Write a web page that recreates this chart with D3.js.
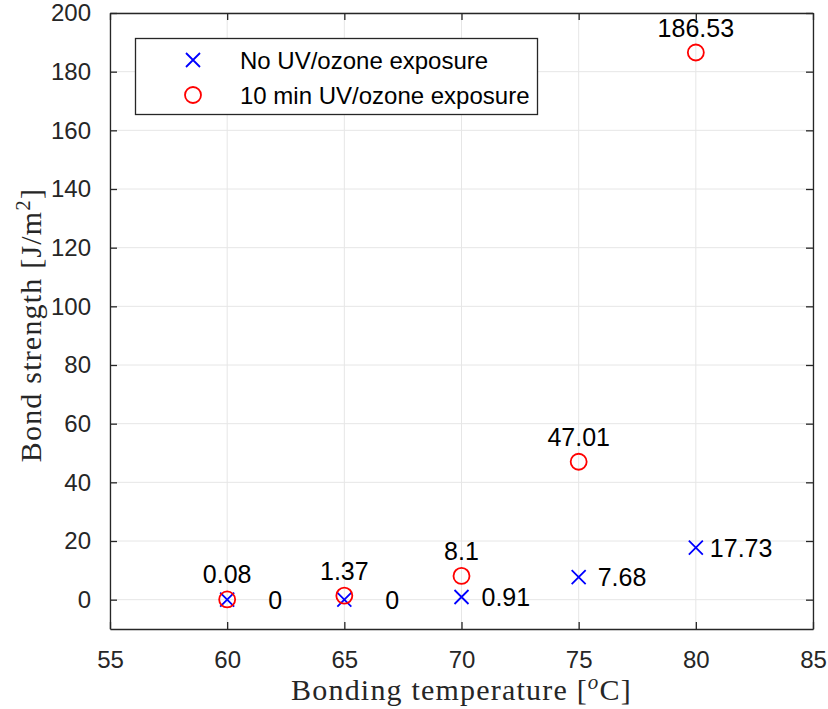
<!DOCTYPE html>
<html>
<head>
<meta charset="utf-8">
<script src="https://cdn.jsdelivr.net/npm/d3@7"></script>
<style>
  body { margin: 0; background: #fff; }
  svg text { font-family: "Liberation Sans", Arial, sans-serif; }
</style>
</head>
<body>
<script>
// data
var temps = [60, 65, 70, 75, 80];
var noUV = [0, 0, 0.91, 7.68, 17.73];
var withUV = [0.08, 1.37, 8.1, 47.01, 186.53];
var noUVLabels = ["0", "0", "0.91", "7.68", "17.73"];
var withUVLabels = ["0.08", "1.37", "8.1", "47.01", "186.53"];
var xTicks = [55, 60, 65, 70, 75, 80, 85];
var yTicks = [0, 20, 40, 60, 80, 100, 120, 140, 160, 180, 200];
var seriesNames = ["No UV/ozone exposure", "10 min UV/ozone exposure"];

// label placement (pixels to the right of the blue marks)
var noUVLabelDx = [41, 41, 20, 19, 14];

function bondChart() {

    this.init = function () {
        var width = 828, height = 709;
        var margin = {left: 110, right: 15, top: 13, bottom: 80};

        var svg = d3.select("body")
            .append("svg")
            .attr("width", width)
            .attr("height", height);

        var x = d3.scaleLinear().domain([55, 85]).range([margin.left, width - margin.right]);
        var y = d3.scaleLinear().domain([-10, 200]).range([height - margin.bottom, margin.top]);

        this.drawGrid(svg, x, y);
        this.drawAxes(svg, x, y);
        this.drawPoints(svg, x, y);
        this.drawLegend(svg);
    };


    this.drawGrid = function (svg, x, y) {
        var g = svg.append("g");
        xTicks.forEach(function (t) {
            g.append("line")
                .attr("x1", x(t)).attr("x2", x(t))
                .attr("y1", y.range()[0]).attr("y2", y.range()[1])
                .attr("stroke", "#e6e6e6");
        });
        yTicks.forEach(function (t) {
            g.append("line")
                .attr("x1", x.range()[0]).attr("x2", x.range()[1])
                .attr("y1", y(t)).attr("y2", y(t))
                .attr("stroke", "#e6e6e6");
        });
    };


    this.drawAxes = function (svg, x, y) {
        var x0 = x.range()[0], x1 = x.range()[1];
        var y0 = y.range()[0], y1 = y.range()[1];

        var bottom = svg.append("g").attr("transform", "translate(0," + y0 + ")")
            .call(d3.axisBottom(x).tickValues(xTicks).tickSizeInner(-7).tickSizeOuter(0).tickPadding(22));
        var top = svg.append("g").attr("transform", "translate(0," + y1 + ")")
            .call(d3.axisTop(x).tickValues(xTicks).tickSizeInner(-7).tickSizeOuter(0).tickFormat(""));
        var left = svg.append("g").attr("transform", "translate(" + x0 + ",0)")
            .call(d3.axisLeft(y).tickValues(yTicks).tickSizeInner(-7).tickSizeOuter(0).tickPadding(19));
        var right = svg.append("g").attr("transform", "translate(" + x1 + ",0)")
            .call(d3.axisRight(y).tickValues(yTicks).tickSizeInner(-7).tickSizeOuter(0).tickFormat(""));

        [bottom, top, left, right].forEach(function (a) {
            a.select(".domain").attr("stroke", "#262626").attr("stroke-width", 1.3);
            a.selectAll(".tick line").attr("stroke", "#262626").attr("stroke-width", 1.3);
            a.selectAll(".tick text").attr("fill", "#262626").style("font-size", "24px")
                .style("font-family", "'Liberation Sans', Arial, sans-serif");
        });

        var xl = svg.append("text")
            .attr("x", (x0 + x1) / 2)
            .attr("y", 700)
            .attr("text-anchor", "middle")
            .attr("fill", "#262626")
            .style("font-family", "'Liberation Serif', serif")
            .style("font-size", "30px")
            .style("letter-spacing", "1.2px");
        xl.append("tspan").text("Bonding temperature [");
        xl.append("tspan").attr("dy", -11).style("font-size", "21px").style("font-style", "italic").text("o");
        xl.append("tspan").attr("dy", 11).text("C]");

        var yl = svg.append("text")
            .attr("transform", "translate(41," + ((y0 + y1) / 2 + 4) + ") rotate(-90)")
            .attr("text-anchor", "middle")
            .attr("fill", "#262626")
            .style("font-family", "'Liberation Serif', serif")
            .style("font-size", "30px")
            .style("letter-spacing", "1.2px");
        yl.append("tspan").text("Bond strength [J/m");
        yl.append("tspan").attr("dy", -11).style("font-size", "21px").text("2");
        yl.append("tspan").attr("dy", 11).text("]");
    };


    this.drawPoints = function (svg, x, y) {
        var s = 7;
        temps.forEach(function (t, i) {
            var cx = x(t), cy = y(noUV[i]);
            svg.append("path")
                .attr("d", "M" + (cx - s) + "," + (cy - s) + "L" + (cx + s) + "," + (cy + s) +
                    "M" + (cx - s) + "," + (cy + s) + "L" + (cx + s) + "," + (cy - s))
                .attr("stroke", "#0000ff")
                .attr("stroke-width", 1.8)
                .attr("fill", "none");
        });

        temps.forEach(function (t, i) {
            svg.append("circle")
                .attr("cx", x(t))
                .attr("cy", y(withUV[i]))
                .attr("r", 8)
                .attr("stroke", "#ff0000")
                .attr("stroke-width", 1.8)
                .attr("fill", "none");
        });

        temps.forEach(function (t, i) {
            svg.append("text")
                .attr("x", x(t) + noUVLabelDx[i])
                .attr("y", y(noUV[i]) + 9)
                .attr("fill", "#000")
                .style("font-size", "25px")
                .text(noUVLabels[i]);
            svg.append("text")
                .attr("x", x(t))
                .attr("y", y(withUV[i]) - 16)
                .attr("text-anchor", "middle")
                .attr("fill", "#000")
                .style("font-size", "25px")
                .text(withUVLabels[i]);
        });
    };


    this.drawLegend = function (svg) {
        var g = svg.append("g");
        g.append("rect")
            .attr("x", 135.5).attr("y", 38.5)
            .attr("width", 402).attr("height", 76)
            .attr("fill", "#fff")
            .attr("stroke", "#262626")
            .attr("stroke-width", 1.3);

        var rows = [60, 95];
        var s = 7, mx = 193;
        g.append("path")
            .attr("d", "M" + (mx - s) + "," + (rows[0] - s) + "L" + (mx + s) + "," + (rows[0] + s) +
                "M" + (mx - s) + "," + (rows[0] + s) + "L" + (mx + s) + "," + (rows[0] - s))
            .attr("stroke", "#0000ff").attr("stroke-width", 1.8);
        g.append("circle")
            .attr("cx", mx).attr("cy", rows[1]).attr("r", 8)
            .attr("stroke", "#ff0000").attr("stroke-width", 1.8).attr("fill", "none");

        seriesNames.forEach(function (name, i) {
            g.append("text")
                .attr("x", 240)
                .attr("y", rows[i] + 9)
                .attr("fill", "#000")
                .style("font-size", "24px")
                .text(name);
        });
    };

}


window.onload = function () {
    new bondChart().init();
};
</script>
</body>
</html>
